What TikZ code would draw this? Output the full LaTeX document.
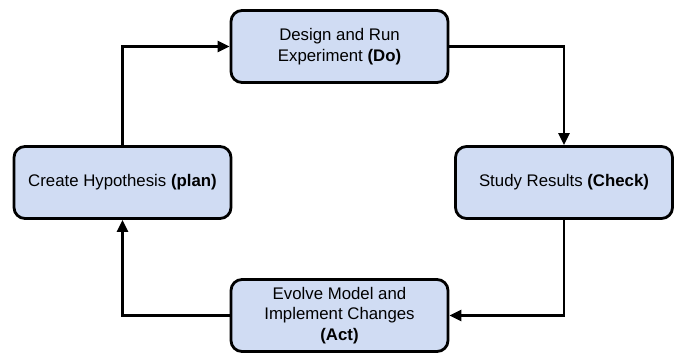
\documentclass[tikz,border=0pt]{standalone}
\usepackage{fontspec}
\setmainfont{Liberation Sans}
\usetikzlibrary{arrows.meta}
\definecolor{boxblue}{RGB}{208,220,243}
\tikzset{
	stage/.style={draw=black, fill=boxblue, line width=2.8pt, rounded corners=11pt, minimum width=217pt, minimum height=72pt, inner sep=0pt, align=center, font=\fontsize{16.8}{20.5}\selectfont},
	flow/.style={line width=2.8pt, -{Triangle[length=12pt, width=11pt]}}
}

\begin{document}
\begin{tikzpicture}[x=1pt, y=-1pt]
		%%%%% START %%%%%
		\useasboundingbox (0, 0) rectangle (677, 354);
		
		\node[stage] (do) at (339.5, 46.5) {Design and Run\\Experiment \textbf{(Do)}};
		\node[stage] (plan) at (122.5, 182.5) {Create Hypothesis \textbf{(plan)}};
		\node[stage] (check) at (564, 182.5) {Study Results \textbf{(Check)}};
		\node[stage] (act) at (339.5, 315.5) {Evolve Model and\\Implement Changes\\\textbf{(Act)}};
		
		\draw[flow] (plan.north) |- (do.west);
		\draw[flow] (do.east) -| (check.north);
		\draw[flow] (check.south) |- (act.east);
		\draw[flow] (act.west) -| (plan.south);
		
		%%%%% END %%%%%
	\end{tikzpicture}
\end{document}
